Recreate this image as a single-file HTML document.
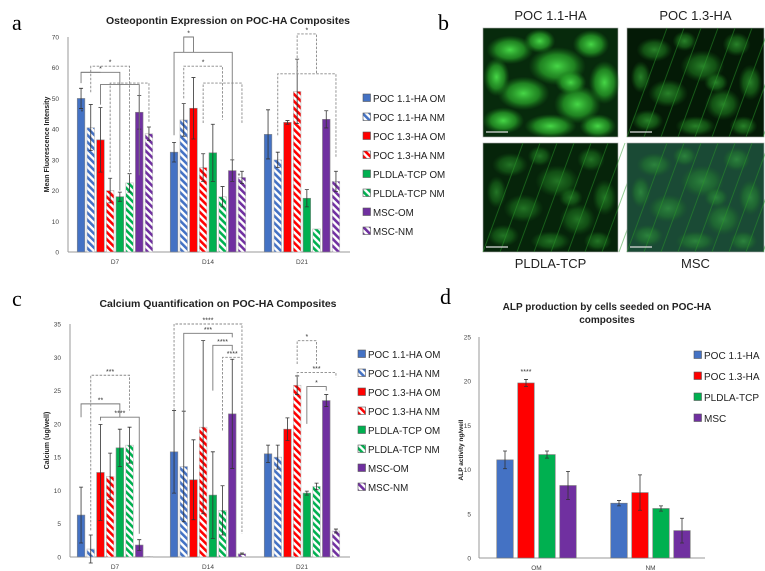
<!DOCTYPE html>
<html><head><meta charset="utf-8">
<style>
html,body{margin:0;padding:0;background:#fff;}
svg{display:block;font-family:"Liberation Sans",sans-serif;}
</style></head>
<body>
<svg id="fig" width="765" height="571" viewBox="0 0 765 571">
<defs>
  <pattern id="h-blue" width="5" height="5" patternUnits="userSpaceOnUse" patternTransform="rotate(-45)"><rect width="5" height="5" fill="#fff"/><rect width="2.6" height="5" fill="#4472C4"/></pattern>
  <pattern id="h-red" width="5" height="5" patternUnits="userSpaceOnUse" patternTransform="rotate(-45)"><rect width="5" height="5" fill="#fff"/><rect width="2.6" height="5" fill="#FF0000"/></pattern>
  <pattern id="h-green" width="5" height="5" patternUnits="userSpaceOnUse" patternTransform="rotate(-45)"><rect width="5" height="5" fill="#fff"/><rect width="2.6" height="5" fill="#00B050"/></pattern>
  <pattern id="h-purple" width="5" height="5" patternUnits="userSpaceOnUse" patternTransform="rotate(-45)"><rect width="5" height="5" fill="#fff"/><rect width="2.6" height="5" fill="#7030A0"/></pattern>
  <radialGradient id="cellg"><stop offset="0" stop-color="#4ae04a" stop-opacity="0.95"/><stop offset="0.6" stop-color="#2aa82a" stop-opacity="0.7"/><stop offset="1" stop-color="#1a7a1a" stop-opacity="0"/></radialGradient>
</defs>

<text x="12" y="30" font-family="Liberation Serif,serif" font-size="22">a</text>
<text x="438" y="30" font-family="Liberation Serif,serif" font-size="22">b</text>
<text x="12" y="306" font-family="Liberation Serif,serif" font-size="22">c</text>
<text x="440" y="304" font-family="Liberation Serif,serif" font-size="22">d</text>

<g id="pa"></g>
<g id="pb"></g>
<g id="pc"></g>
<g id="pd"></g>
</svg>

<script>
const groups = ["D7","D14","D21"];
const seriesNames = ["POC 1.1-HA OM","POC 1.1-HA NM","POC 1.3-HA OM","POC 1.3-HA NM","PLDLA-TCP OM","PLDLA-TCP NM","MSC-OM","MSC-NM"];
const aTicks = [0,10,20,30,40,50,60,70];
const aD7 = [50,40.5,36.5,20,18,22.5,45.5,38.5];
const aD14 = [32.5,43,46.8,27.5,32.3,18,26.5,24.3];
const aD21 = [38.3,30,42.2,52.3,17.5,7.5,43.2,23];
const aErrD7 = [3.3,7.5,10.5,4,1.5,3,5.5,2.2];
const aErrD14 = [3.2,5.3,10,4.5,9.3,3.3,3.5,2];
const aErrD21 = [8,2.5,0.6,10.5,2.8,0,2.8,3.3];

const cTicks = [0,5,10,15,20,25,30,35];
const cD7 = [6.3,1.2,12.7,12.1,16.4,16.8,1.8,0.1];
const cD14 = [15.8,13.6,11.6,19.5,9.3,7,21.5,0.5];
const cD21 = [15.5,15,19.2,25.8,9.6,10.6,23.5,3.9];
const cErrD7 = [4.2,2.1,7.2,3.5,2.8,2.7,0.8,0];
const cErrD14 = [6.2,8.3,6,13,6.5,3.7,8.2,0.1];
const cErrD21 = [1.3,1.8,1.7,1.4,0.3,0.5,0.9,0.3];

const dCats = ["OM","NM"];
const dSeries = ["POC 1.1-HA","POC 1.3-HA","PLDLA-TCP","MSC"];
const dTicks = [0,5,10,15,20,25];
const dOM = [11.1,19.8,11.7,8.2];
const dNM = [6.2,7.4,5.6,3.1];
const dErrOM = [1,0.4,0.4,1.6];
const dErrNM = [0.3,2,0.3,1.4];

const colors = ["#4472C4","#FF0000","#00B050","#7030A0"];
const hatch = ["url(#h-blue)","url(#h-red)","url(#h-green)","url(#h-purple)"];

const NS="http://www.w3.org/2000/svg";
function mk(parent,tag,attrs,txt){const e=document.createElementNS(NS,tag);for(const k in attrs)e.setAttribute(k,attrs[k]);if(txt!==undefined)e.textContent=txt;parent.appendChild(e);return e;}

function groupedChart(g,cfg){
  const {x0,x1,y0,yTop,max,ticks,centers,data,errs,legendX,legendY,title,titleX,titleY,ylabel,ylabelX,brackets} = cfg;
  const y = v => y0 - (v/max)*(y0-yTop);
  const step = 9.7, bw = 7.6;
  const bx = (gi,i) => centers[gi] - 4*step + i*step + (step-bw)/2;
  const bc = (gi,i) => bx(gi,i)+bw/2;
  let t = mk(g,'text',{x:titleX,y:titleY,'font-size':10.5,'font-weight':'bold','text-anchor':'middle',fill:'#222'},title);
  
  
  let yl = mk(g,'text',{x:ylabelX,y:(y0+yTop)/2,'font-size':7,'font-weight':'bold','text-anchor':'middle',transform:`rotate(-90 ${ylabelX} ${(y0+yTop)/2})`,fill:'#222'},ylabel);
  
  
  ticks.forEach(v=>{
    const tl = mk(g,'text',{x:x0-9,y:y(v)+2.5,'font-size':6.5,'text-anchor':'end',fill:'#444'},v);
    
    
  });
  mk(g,'line',{x1:x0,y1:yTop,x2:x0,y2:y0,stroke:'#999','stroke-width':1});
  mk(g,'line',{x1:x0,y1:y0,x2:x1,y2:y0,stroke:'#999','stroke-width':1});
  groups.forEach((gn,gi)=>{
    const xl = mk(g,'text',{x:centers[gi],y:y0+12,'font-size':6.5,'text-anchor':'middle',fill:'#444'},gn);
    
    
    data[gi].forEach((v,i)=>{
      const ci = Math.floor(i/2), hatched = i%2===1;
      const r = mk(g,'rect',{x:bx(gi,i),y:y(v),width:bw,height:y0-y(v),fill:hatched?hatch[ci]:colors[ci],stroke:hatched?'#bbb':'#888','stroke-width':0.6});
      
      
      const e = errs[gi][i];
      if(e>0){
        const cx = bc(gi,i);
        mk(g,'path',{d:`M${cx},${y(v+e)}V${y(v-e)}M${cx-2},${y(v+e)}h4M${cx-2},${y(v-e)}h4`,stroke:'#333','stroke-width':0.8,fill:'none'});
      }
    });
  });
  (brackets||[]).forEach(b=>{
    const [gi,i1,i2,top,l,r,dash,lab] = b;
    const xa=bc(gi,i1), xb=bc(gi,i2);
    const p = mk(g,'path',{d:`M${xa},${y(l)}V${y(top)}H${xb}V${y(r)}`,stroke:dash?'#888':'#777','stroke-width':0.9,fill:'none','stroke-dasharray':dash?'2.5,1.5':'none'});
    
    
    if(lab){const s=mk(g,'text',{x:(xa+xb)/2,y:y(top)-1.5,'font-size':7,'text-anchor':'middle',fill:'#333'},lab);
      
      }
  });
  seriesNames.forEach((n,i)=>{
    const ci=Math.floor(i/2), hatched=i%2===1, ly=legendY+i*19;
    const lg = mk(g,'g',{});
    
    
    mk(lg,'rect',{x:legendX,y:ly-7,width:7.5,height:7.5,fill:hatched?hatch[ci]:colors[ci],stroke:'#555','stroke-width':0.6});
    mk(lg,'text',{x:legendX+10,y:ly+1,'font-size':9.8,fill:'#222'},n);
  });
}

groupedChart(document.getElementById('pa'),{
  x0:68,x1:350,y0:252,yTop:37,max:70,ticks:aTicks,centers:[115,208,302],
  data:[aD7,aD14,aD21],errs:[aErrD7,aErrD14,aErrD21],
  legendX:363,legendY:101,title:"Osteopontin Expression on POC-HA Composites",titleX:228,titleY:24,
  ylabel:"Mean Fluorescence Intensity",ylabelX:49,
  brackets:[
    [0,0,4,58.5,55,20,false,"*"],[0,1,5,60.5,52,25,true,"*"],[0,2,6,54.5,48,25,false,""],[0,3,7,55,26,42,true,""],
    [0,0,2,58.5,58.5,58.5,false,""],
    [1,0,6,65,38,30,false,""],[1,1,2,70,65,65,false,"*"],[1,1,5,60.5,50,43,true,"*"],[1,3,7,55,42,42,true,""],
    [2,1,7,58,38,31,true,""],[2,3,5,71,58,58,true,"*"]
  ]
});
(function(){const g=document.getElementById('pa');
  [[82,114],[239,178]].forEach(p=>{const s=mk(g,'text',{x:p[0],y:p[1],'font-size':7,'text-anchor':'middle',fill:'#333'},'*');
    
    });})();

groupedChart(document.getElementById('pc'),{
  x0:70,x1:350,y0:557,yTop:324,max:35,ticks:cTicks,centers:[115,208,302],
  data:[cD7,cD14,cD21],errs:[cErrD7,cErrD14,cErrD21],
  legendX:358,legendY:357,title:"Calcium Quantification on POC-HA Composites",titleX:218,titleY:307,
  ylabel:"Calcium (ug/well)",ylabelX:49,
  brackets:[
    [0,0,4,23,21,21,false,"**"],[0,1,5,27.3,4,22,true,"***"],[0,2,6,21,20.5,3.5,false,"****"],
    [1,0,7,35,22,3.5,true,"****"],[1,1,6,33.6,19,33,false,"***"],[1,4,6,31.8,25,31,false,"****"],[1,5,7,30,19,30,true,"****"],
    [2,3,5,32.5,29,29,true,"*"],[2,3,7,27.7,27,27,true,"***"],[2,4,6,25.6,20,25,false,"*"]
  ]
});

(function(){
  const g=document.getElementById('pd');
  const x0=479,x1=705,y0=558,yTop=337,max=25,centers=[536.5,650.5];
  const y=v=>y0-(v/max)*(y0-yTop);
  const step=21,bw=16.5;
  let t=mk(g,'text',{x:607,y:310,'font-size':10,'font-weight':'bold','text-anchor':'middle',fill:'#222'},"ALP production by cells seeded on POC-HA");
  
  
  mk(g,'text',{x:607,y:323,'font-size':10,'font-weight':'bold','text-anchor':'middle',fill:'#222'},"composites");
  const yl=mk(g,'text',{x:463,y:450,'font-size':6.5,'font-weight':'bold','text-anchor':'middle',transform:'rotate(-90 463 450)',fill:'#222'},"ALP activity ng/well");
  
  
  dTicks.forEach(v=>{const tl=mk(g,'text',{x:x0-8,y:y(v)+2.5,'font-size':6.5,'text-anchor':'end',fill:'#444'},v);
    
    });
  mk(g,'line',{x1:x0,y1:yTop,x2:x0,y2:y0,stroke:'#999'});
  mk(g,'line',{x1:x0,y1:y0,x2:x1,y2:y0,stroke:'#999'});
  const data=[dOM,dNM], errs=[dErrOM,dErrNM];
  dCats.forEach((c,gi)=>{
    const xl=mk(g,'text',{x:centers[gi],y:y0+12,'font-size':6.5,'text-anchor':'middle',fill:'#444'},c);
    
    
    data[gi].forEach((v,i)=>{
      const bx=centers[gi]-2*step+i*step+(step-bw)/2;
      const r=mk(g,'rect',{x:bx,y:y(v),width:bw,height:y0-y(v),fill:colors[i],stroke:'#777','stroke-width':0.6});
      
      
      const e=errs[gi][i],cx=bx+bw/2;
      mk(g,'path',{d:`M${cx},${y(v+e)}V${y(v-e)}M${cx-2},${y(v+e)}h4M${cx-2},${y(v-e)}h4`,stroke:'#333','stroke-width':0.8,fill:'none'});
    });
  });
  const s=mk(g,'text',{x:centers[0]-step/2,y:y(20.8),'font-size':7,'text-anchor':'middle',fill:'#333'},"****");
  
  
  dSeries.forEach((n,i)=>{
    const ly=358+i*21;
    const lg=mk(g,'g',{});
    
    
    mk(lg,'rect',{x:694,y:ly-7,width:7.5,height:7.5,fill:colors[i],stroke:'#555','stroke-width':0.6});
    mk(lg,'text',{x:704,y:ly+1,'font-size':10,fill:'#222'},n);
  });
})();

(function(){
  const g=document.getElementById('pb');
  const panels=[
    {x:483,y:28,w:135,h:109,lab:"POC 1.1-HA",ly:20,bright:1.0,base:"#072a0c"},
    {x:627,y:28,w:137,h:109,lab:"POC 1.3-HA",ly:20,bright:0.55,base:"#041a06"},
    {x:483,y:143,w:135,h:109,lab:"PLDLA-TCP",ly:268,bright:0.45,base:"#06240a"},
    {x:627,y:143,w:137,h:109,lab:"MSC",ly:268,bright:0.4,base:"#1a4a35"}
  ];
  const blobs=[[0.2,0.2,18,12],[0.55,0.35,22,16],[0.8,0.15,14,12],[0.3,0.6,20,14],[0.7,0.7,18,16],[0.15,0.85,16,11],[0.5,0.9,20,10],[0.9,0.5,12,18],[0.42,0.12,12,10],[0.1,0.45,10,16],[0.65,0.5,12,10],[0.85,0.9,14,10]];
  panels.forEach((p,pi)=>{
    const lbl=mk(g,'text',{x:p.x+p.w/2,y:p.ly,'font-size':13,'text-anchor':'middle',fill:'#222'},p.lab);
    
    
    const im=mk(g,'g',{});
    
    
    mk(im,'rect',{x:p.x,y:p.y,width:p.w,height:p.h,fill:p.base,stroke:'#aaa','stroke-width':0.6});
    blobs.forEach(b=>{
      mk(im,'ellipse',{cx:p.x+b[0]*p.w,cy:p.y+b[1]*p.h,rx:b[2]*(pi==0?1.3:1),ry:b[3]*(pi==0?1.2:1),fill:'url(#cellg)',opacity:p.bright});
    });
    if(pi>0){for(let k=0;k<9;k++){mk(im,'line',{x1:p.x+k*17,y1:p.y+p.h,x2:p.x+k*17+40,y2:p.y,stroke:'#2a9a2a','stroke-width':1,opacity:0.5});}}
    mk(im,'line',{x1:p.x+3,y1:p.y+p.h-5,x2:p.x+25,y2:p.y+p.h-5,stroke:'#ddd','stroke-width':1.2});
  });
})();
</script>
</body></html>
